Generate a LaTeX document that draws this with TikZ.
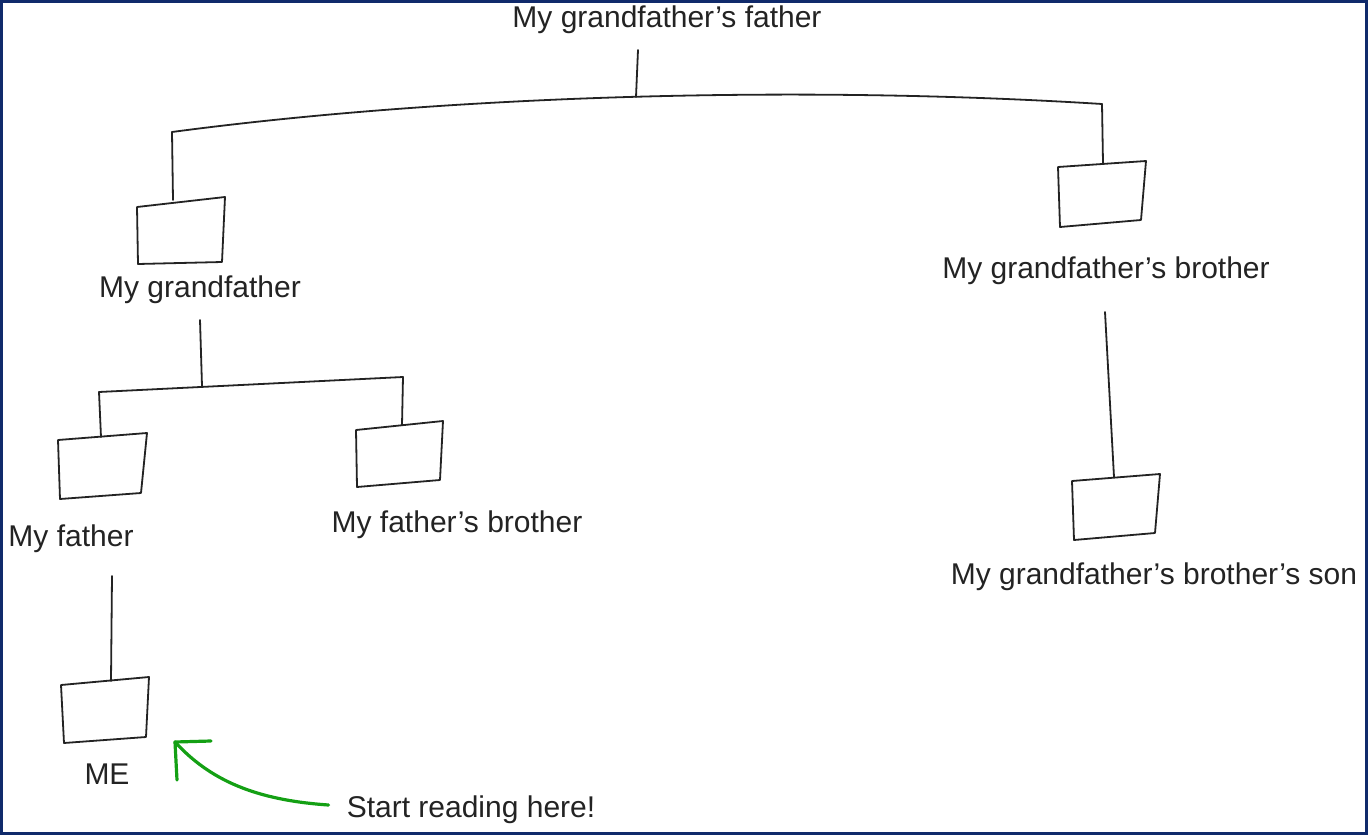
\documentclass[tikz,border=0pt]{standalone}
\usepackage{fontspec}
\setmainfont{Liberation Sans}
\definecolor{framec}{RGB}{16,42,107}
\definecolor{arrowg}{RGB}{20,160,20}
\definecolor{ink}{RGB}{35,35,35}
\begin{document}
\begin{tikzpicture}[x=1pt,y=-1pt,
  lbl/.style={font=\fontsize{30}{32}\selectfont, text=ink, inner sep=0pt, anchor=center},
  hand/.style={draw=ink, line width=1.8pt, line join=round, line cap=round},
  greenarrow/.style={draw=arrowg, line width=3.2pt, line cap=round}]
\useasboundingbox (0,0) rectangle (1368,835);
\draw[framec, line width=2.5pt] (1.5,1.5) rectangle (1366.5,833.5);
% labels
\node[lbl] (ggf) at (667,20) {My grandfather's father};
\node[lbl] (gf) at (200,290) {My grandfather};
\node[lbl] (gfb) at (1106,271) {My grandfather's brother};
\node[lbl] (fa) at (71,539) {My father};
\node[lbl] (fab) at (457,525) {My father's brother};
\node[lbl] (gfbs) at (1154,577) {My grandfather's brother's son};
\node[lbl] (me) at (107,774) {ME};
\node[lbl] (start) at (471,810) {Start reading here!};
% boxes
\draw[hand] (137,207) -- (225,197) -- (222,262) -- (138,264) -- cycle;
\draw[hand] (1058,167) -- (1146,161) -- (1141,220) -- (1060,227) -- cycle;
\draw[hand] (58,440) -- (147,433) -- (141,493) -- (60,499) -- cycle;
\draw[hand] (356,430) -- (443,421) -- (440,480) -- (357,487) -- cycle;
\draw[hand] (1072,481) -- (1160,474) -- (1155,533) -- (1074,540) -- cycle;
\draw[hand] (61,685) -- (149,677) -- (146,737) -- (64,743) -- cycle;
% connection points
\coordinate (ggfb) at (638,50);
\coordinate (arcm) at (636,97);
\coordinate (arcl) at (172,132);
\coordinate (arcr) at (1102,104);
\coordinate (gfbox) at (173,200);
\coordinate (gfbbox) at (1103,163);
\coordinate (gfdown) at (200,320);
\coordinate (barm) at (202,386);
\coordinate (barl) at (99,392);
\coordinate (barr) at (403,377);
\coordinate (fabox) at (101,437);
\coordinate (fabbox) at (402,425);
\coordinate (gfbdown) at (1105,312);
\coordinate (gfbsbox) at (1114,477);
\coordinate (fadown) at (112,576);
\coordinate (mebox) at (111,681);
\coordinate (tip) at (175,742);
% connectors
\draw[hand] (ggfb) -- (arcm);
\draw[hand] (arcl) .. controls (450,95) and (800,85) .. (arcr);
\draw[hand] (arcl) -- (gfbox);
\draw[hand] (arcr) -- (gfbbox);
\draw[hand] (gfdown) -- (barm);
\draw[hand] (barl) -- (barr);
\draw[hand] (barl) -- (fabox);
\draw[hand] (barr) -- (fabbox);
\draw[hand] (gfbdown) -- (gfbsbox);
\draw[hand] (fadown) -- (mebox);
% green arrow
\draw[greenarrow] (start.west) ++(-18,-5) coordinate (s0) .. controls (255,800) and (210,780) .. (tip);
\draw[greenarrow] (tip) -- ++(36,-1);
\draw[greenarrow] (tip) -- ++(2,38);
\end{tikzpicture}
\end{document}
